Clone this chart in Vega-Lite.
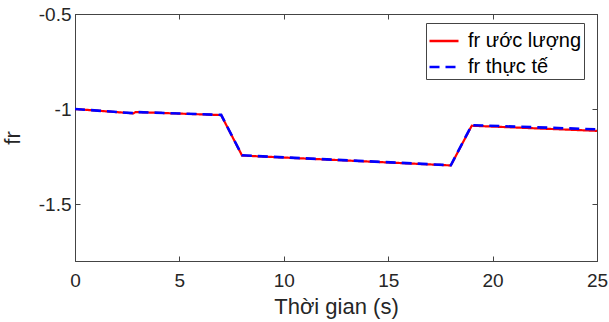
{
  "$schema": "https://vega.github.io/schema/vega-lite/v6.json",
  "width": 522,
  "height": 247,
  "autosize": {"type": "none"},
  "padding": {"left": 75, "top": 14, "right": 12, "bottom": 61},
  "background": "white",
  "config": {
    "font": "Liberation Sans",
    "view": {"stroke": "#444444", "strokeWidth": 1},
    "axis": {
      "domainColor": "#444444",
      "tickColor": "#444444",
      "tickSize": -5,
      "grid": false,
      "labelFont": "Liberation Sans",
      "labelFontSize": 19,
      "labelColor": "#262626",
      "titleFont": "Liberation Sans",
      "titleFontSize": 22,
      "titleFontWeight": "normal",
      "titleColor": "#262626"
    }
  },
  "data": {
    "values": [
      {"t": 0, "fr": -1.0, "series": "fr ước lượng"},
      {"t": 2.8, "fr": -1.023, "series": "fr ước lượng"},
      {"t": 2.9, "fr": -1.016, "series": "fr ước lượng"},
      {"t": 7, "fr": -1.032, "series": "fr ước lượng"},
      {"t": 8, "fr": -1.245, "series": "fr ước lượng"},
      {"t": 18, "fr": -1.297, "series": "fr ước lượng"},
      {"t": 19, "fr": -1.088, "series": "fr ước lượng"},
      {"t": 25, "fr": -1.115, "series": "fr ước lượng"},
      {"t": 0, "fr": -1.0, "series": "fr thực tế"},
      {"t": 2.8, "fr": -1.022, "series": "fr thực tế"},
      {"t": 2.9, "fr": -1.016, "series": "fr thực tế"},
      {"t": 7, "fr": -1.031, "series": "fr thực tế"},
      {"t": 8, "fr": -1.244, "series": "fr thực tế"},
      {"t": 18, "fr": -1.296, "series": "fr thực tế"},
      {"t": 19, "fr": -1.085, "series": "fr thực tế"},
      {"t": 25, "fr": -1.107, "series": "fr thực tế"}
    ]
  },
  "layer": [
    {
      "transform": [{"filter": "datum.series === 'fr ước lượng'"}],
      "mark": {"type": "line", "strokeWidth": 2.2, "clip": true},
      "encoding": {
        "x": {"field": "t", "type": "quantitative", "scale": {"domain": [0, 25], "nice": false},
          "axis": {"title": "Thời gian (s)", "values": [0, 5, 10, 15, 20, 25], "labelPadding": 15, "titlePadding": 6, "labelFlush": false}},
        "y": {"field": "fr", "type": "quantitative", "scale": {"domain": [-1.8, -0.5], "nice": false, "zero": false},
          "axis": {"title": "fr", "values": [-1.5, -1, -0.5], "labelExpr": "'' + datum.value", "labelPadding": 9, "titlePadding": 14}},
        "color": {"field": "series", "type": "nominal",
          "scale": {"domain": ["fr ước lượng", "fr thực tế"], "range": ["#ff0000", "#0000ff"]},
          "legend": {"title": null, "orient": "none", "legendX": 351, "legendY": 9,
            "symbolType": "stroke", "symbolSize": 841, "symbolStrokeWidth": 2.5,
            "labelFont": "Liberation Sans", "labelFontSize": 20, "labelColor": "#000000", "labelOffset": 8,
            "rowPadding": -4, "padding": 2, "strokeColor": "#444444", "fillColor": "white"}},
        "strokeDash": {"field": "series", "type": "nominal",
          "scale": {"domain": ["fr ước lượng", "fr thực tế"], "range": [[1, 0], [10, 6]]}}
      }
    },
    {
      "transform": [{"filter": "datum.series === 'fr thực tế'"}],
      "mark": {"type": "line", "strokeWidth": 2.6, "clip": true},
      "encoding": {
        "x": {"field": "t", "type": "quantitative", "axis": null},
        "y": {"field": "fr", "type": "quantitative", "axis": null},
        "color": {"field": "series", "type": "nominal"},
        "strokeDash": {"field": "series", "type": "nominal"}
      }
    },
    {
      "mark": {"type": "line", "opacity": 0},
      "encoding": {
        "x": {"field": "t", "type": "quantitative", "axis": {"orient": "top", "labels": false, "title": null, "values": [0, 5, 10, 15, 20, 25]}},
        "y": {"field": "fr", "type": "quantitative", "axis": {"orient": "right", "labels": false, "title": null, "values": [-1.5, -1, -0.5]}}
      }
    }
  ],
  "resolve": {"axis": {"x": "independent", "y": "independent"}}
}
